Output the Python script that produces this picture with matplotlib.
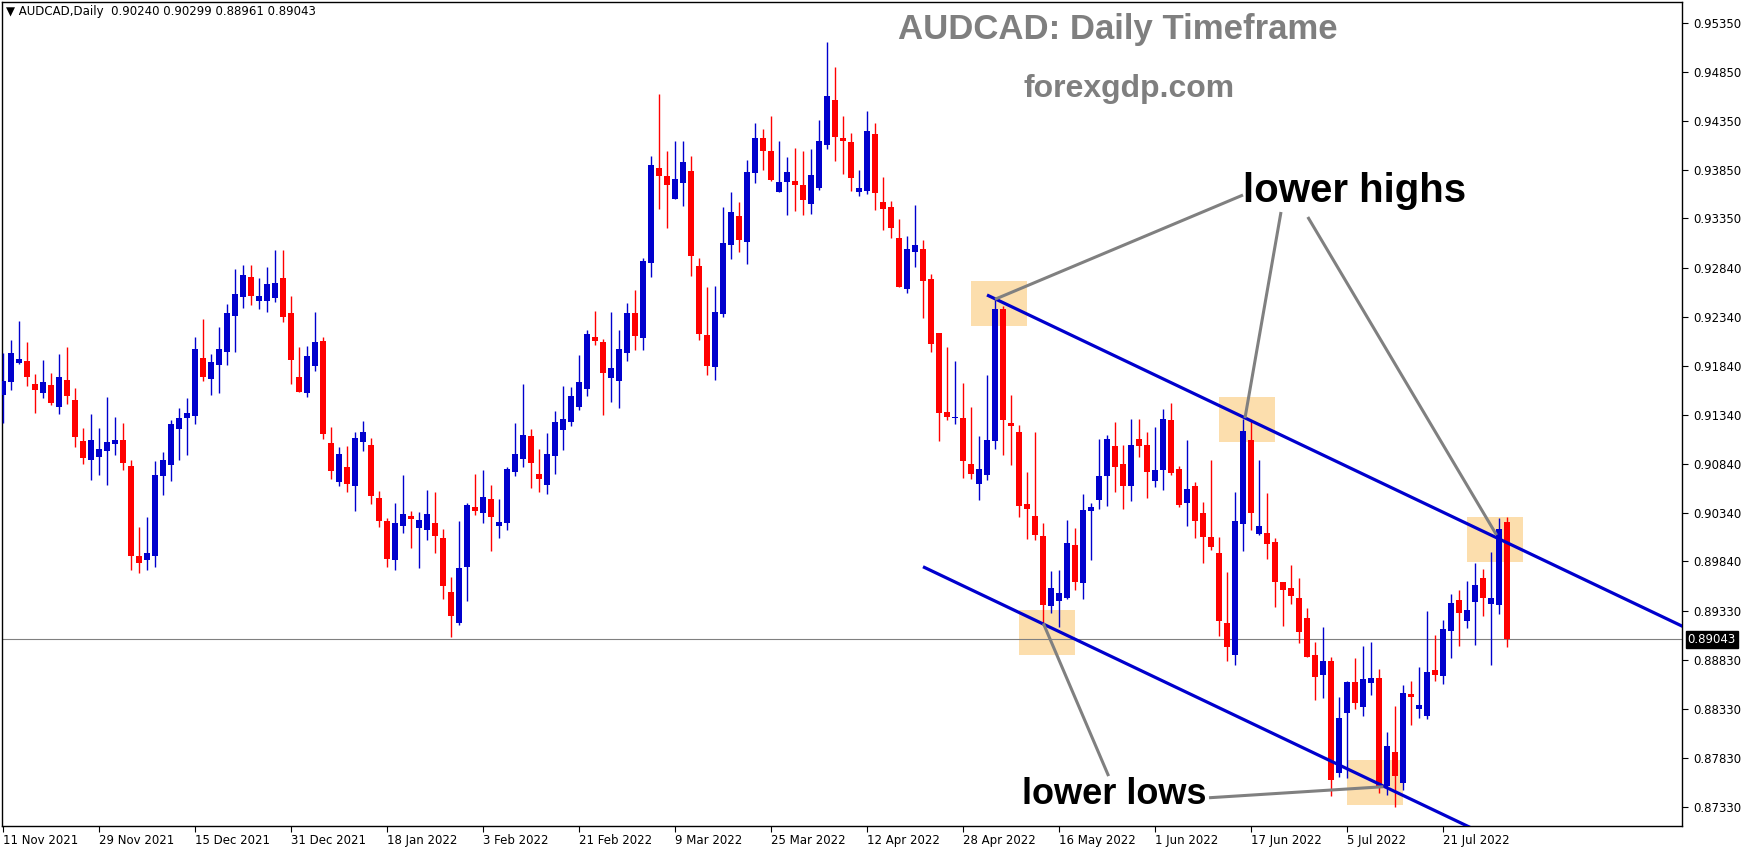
import matplotlib
matplotlib.use("Agg")
import matplotlib.pyplot as plt
from matplotlib.patches import Rectangle

# ---------------- data (AUDCAD daily, one entry per bar, bar 0 = 11 Nov 2021) ----------------
opens = [0.91543,0.91677,0.91871,0.91892,0.91656,0.91564,0.91646,0.91421,0.91697,0.91492,
         0.91073,0.90878,0.90909,0.90970,0.91042,0.91083,0.90817,0.89900,0.89850,0.89900,
         0.90715,0.90827,0.91196,0.91308,0.91329,0.91922,0.91707,0.91851,0.91984,0.92352,
         0.92546,0.92751,0.92505,0.92505,0.92536,0.92741,0.92383,0.91728,0.91564,0.91840,
         0.92096,0.91052,0.90653,0.90807,0.90612,0.91063,0.91032,0.90490,0.90254,0.89855,
         0.90203,0.90305,0.90183,0.90162,0.90233,0.90080,0.89527,0.89210,0.89783,0.90397,
         0.90336,0.90479,0.90203,0.90233,0.90755,0.90888,0.91124,0.90735,0.90622,0.90919,
         0.91185,0.91267,0.91421,0.91605,0.92137,0.92086,0.91717,0.91687,0.91973,0.92382,
         0.92127,0.92894,0.93866,0.93784,0.93549,0.93713,0.93836,0.92863,0.92157,0.91830,
         0.92372,0.93078,0.93375,0.93109,0.93815,0.94173,0.94040,0.93621,0.93723,0.93733,
         0.93692,0.93498,0.93662,0.94102,0.94562,0.94173,0.94132,0.93621,0.93631,0.94214,
         0.93518,0.93467,0.93150,0.92628,0.93007,0.93037,0.92730,0.92178,0.91369,0.91308,
         0.91308,0.90837,0.90633,0.90725,0.91073,0.92423,0.91257,0.91165,0.90428,0.90305,
         0.90100,0.89384,0.89435,0.89466,0.90008,0.89619,0.90356,0.90469,0.90714,0.91021,
         0.90837,0.90612,0.91093,0.91032,0.90663,0.90776,0.91287,0.90786,0.90438,0.90612,
         0.90336,0.90090,0.89926,0.89210,0.88883,0.90223,0.91083,0.90121,0.90131,0.90039,
         0.89630,0.89568,0.89466,0.89261,0.88883,0.88678,0.88821,0.87675,0.88289,0.88606,
         0.88351,0.88596,0.88647,0.87542,0.87890,0.87573,0.88484,0.88330,0.88258,0.88729,
         0.88668,0.89128,0.89445,0.89231,0.89425,0.89671,0.89405,0.89394,0.90240]
highs = [0.91970,0.92106,0.92301,0.92086,0.91759,0.91902,0.91769,0.91963,0.92035,0.91615,
         0.91206,0.91349,0.91206,0.91523,0.91318,0.91257,0.90878,0.90193,0.90295,0.90868,
         0.90960,0.91288,0.91410,0.91513,0.92137,0.92321,0.91963,0.92239,0.92475,0.92833,
         0.92874,0.92874,0.92741,0.92853,0.93027,0.93027,0.92556,0.92035,0.92045,0.92393,
         0.92137,0.91216,0.91011,0.91021,0.91165,0.91277,0.91103,0.90561,0.90285,0.90438,
         0.90725,0.90356,0.90346,0.90571,0.90551,0.90172,0.89681,0.90254,0.90438,0.90735,
         0.90776,0.90622,0.90479,0.90806,0.91257,0.91657,0.91195,0.90991,0.91154,0.91379,
         0.91636,0.91625,0.91953,0.92209,0.92403,0.92116,0.92393,0.92209,0.92485,0.92618,
         0.92945,0.93989,0.94624,0.94040,0.94143,0.94143,0.93989,0.92945,0.92649,0.92659,
         0.93467,0.93621,0.93518,0.93948,0.94327,0.94265,0.94398,0.94143,0.93979,0.94071,
         0.94040,0.94061,0.94357,0.95156,0.94900,0.94398,0.94224,0.93846,0.94450,0.94327,
         0.93774,0.93529,0.93344,0.93170,0.93488,0.93130,0.92782,0.92178,0.92035,0.91891,
         0.91666,0.91420,0.91124,0.91748,0.92515,0.92454,0.91543,0.91236,0.90755,0.91165,
         0.90233,0.89742,0.89752,0.90264,0.90182,0.90530,0.90438,0.91093,0.91130,0.91267,
         0.91032,0.91298,0.91298,0.91165,0.91216,0.91400,0.91461,0.90817,0.91083,0.90653,
         0.90448,0.90878,0.90090,0.89732,0.90551,0.91298,0.91287,0.90878,0.90540,0.90080,
         0.89630,0.89804,0.89671,0.89364,0.89016,0.89169,0.88862,0.88453,0.88617,0.88852,
         0.88975,0.89016,0.88739,0.88095,0.88361,0.88576,0.88617,0.88760,0.89333,0.89087,
         0.89241,0.89507,0.89548,0.89640,0.89824,0.89763,0.89937,0.90285,0.90299]
lows = [0.91253,0.91595,0.91861,0.91636,0.91359,0.91513,0.91441,0.91349,0.91452,0.91011,
        0.90838,0.90674,0.90725,0.90623,0.90930,0.90776,0.89750,0.89720,0.89750,0.89780,
        0.90520,0.90663,0.90878,0.90930,0.91247,0.91687,0.91543,0.91564,0.91851,0.91984,
        0.92434,0.92464,0.92423,0.92393,0.92495,0.92290,0.91656,0.91574,0.91523,0.91789,
        0.91093,0.90684,0.90612,0.90551,0.90356,0.90970,0.90428,0.90193,0.89783,0.89753,
        0.90131,0.89978,0.89773,0.90059,0.89926,0.89456,0.89067,0.89190,0.89435,0.90315,
        0.90233,0.89947,0.90080,0.90162,0.90714,0.90806,0.90592,0.90551,0.90530,0.90735,
        0.90981,0.91226,0.91390,0.91533,0.92055,0.91339,0.91472,0.91410,0.91891,0.92004,
        0.92004,0.92751,0.93447,0.93252,0.93549,0.93477,0.92761,0.92106,0.91748,0.91697,
        0.92342,0.92935,0.93007,0.92884,0.93713,0.93846,0.93733,0.93621,0.93385,0.93426,
        0.93385,0.93396,0.93641,0.94061,0.93938,0.93805,0.93631,0.93580,0.93600,0.93437,
        0.93232,0.93150,0.92649,0.92587,0.92853,0.92331,0.91983,0.91073,0.91288,0.91247,
        0.90694,0.90684,0.90469,0.90673,0.90991,0.90929,0.90827,0.90295,0.90070,0.90059,
        0.89207,0.89312,0.89169,0.89456,0.89548,0.89456,0.89855,0.90377,0.90407,0.90551,
        0.90377,0.90459,0.90909,0.90489,0.90602,0.90571,0.90725,0.90397,0.90203,0.90080,
        0.89824,0.89957,0.89077,0.88821,0.88780,0.89947,0.90162,0.90111,0.89865,0.89374,
        0.89179,0.89405,0.89005,0.88862,0.88422,0.88443,0.87440,0.87634,0.87624,0.88330,
        0.88258,0.88473,0.87470,0.87450,0.87331,0.87501,0.88166,0.88238,0.88228,0.88617,
        0.88586,0.88852,0.88975,0.89159,0.88985,0.89282,0.88780,0.89302,0.88961]
closes = [0.91687,0.91973,0.91912,0.91728,0.91595,0.91677,0.91462,0.91728,0.91533,0.91114,
          0.90899,0.91083,0.90991,0.91063,0.91083,0.90848,0.89900,0.89820,0.89930,0.90725,
          0.90878,0.91247,0.91308,0.91359,0.92014,0.91728,0.91881,0.92014,0.92383,0.92577,
          0.92772,0.92556,0.92556,0.92679,0.92690,0.92341,0.91902,0.91574,0.91943,0.92086,
          0.91145,0.90766,0.90940,0.90633,0.91103,0.91165,0.90510,0.90254,0.89865,0.90234,
          0.90326,0.90275,0.90264,0.90326,0.90100,0.89589,0.89282,0.89773,0.90418,0.90356,
          0.90500,0.90295,0.90244,0.90786,0.90940,0.91134,0.90847,0.90684,0.90940,0.91267,
          0.91298,0.91533,0.91676,0.92168,0.92096,0.91769,0.91820,0.92014,0.92382,0.92147,
          0.92915,0.93897,0.93784,0.93692,0.93754,0.93928,0.92966,0.92168,0.91840,0.92393,
          0.93099,0.93416,0.93130,0.93825,0.94173,0.94040,0.93743,0.93723,0.93825,0.93692,
          0.93539,0.93795,0.94143,0.94603,0.94184,0.94143,0.93764,0.93662,0.94245,0.93610,
          0.93447,0.93252,0.92649,0.93037,0.93078,0.92710,0.92065,0.91359,0.91318,0.91318,
          0.90868,0.90735,0.90786,0.91083,0.92423,0.91287,0.91226,0.90407,0.90377,0.90111,
          0.89394,0.89568,0.89517,0.90029,0.89630,0.90366,0.90397,0.90714,0.91093,0.90806,
          0.90612,0.91032,0.91021,0.90755,0.90776,0.91298,0.90745,0.90418,0.90581,0.90254,
          0.90090,0.89988,0.89231,0.88965,0.90254,0.91175,0.90336,0.90203,0.90019,0.89630,
          0.89548,0.89486,0.89118,0.88862,0.88658,0.88821,0.87604,0.88238,0.88606,0.88391,
          0.88637,0.88647,0.87542,0.87951,0.87644,0.88494,0.88453,0.88371,0.88709,0.88678,
          0.89149,0.89415,0.89312,0.89343,0.89599,0.89466,0.89466,0.90172,0.89043]

date_labels = ["11 Nov 2021", "29 Nov 2021", "15 Dec 2021", "31 Dec 2021", "18 Jan 2022",
               "3 Feb 2022", "21 Feb 2022", "9 Mar 2022", "25 Mar 2022", "12 Apr 2022",
               "28 Apr 2022", "16 May 2022", "1 Jun 2022", "17 Jun 2022", "5 Jul 2022",
               "21 Jul 2022"]
price_labels = ["0.95350", "0.94850", "0.94350", "0.93850", "0.93350", "0.92840", "0.92340",
                "0.91840", "0.91340", "0.90840", "0.90340", "0.89840", "0.89330", "0.88830",
                "0.88330", "0.87830", "0.87330"]
last_price = 0.89043
header_ohlc = ["0.90240", "0.90299", "0.88961", "0.89043"]

# channel lines: (bar, price) start and end
upper_line = [(123.0, 0.92567), (215.0, 0.88979)]
lower_line = [(115.0, 0.89786), (190.0, 0.86861)]
# highlight boxes: left bar, right bar, bottom price, top price
boxes_x0 = [121, 152, 183, 127, 168]
boxes_x1 = [128, 159, 190, 134, 175]
boxes_y0 = [0.92249, 0.91065, 0.89834, 0.88883, 0.87348]
boxes_y1 = [0.92710, 0.91526, 0.90295, 0.89343, 0.87808]
# annotation pointer lines (bar, price)
high_pointers = [[(155.0, 0.93590), (124.0, 0.92523)],
                 [(159.75, 0.93416), (155.25, 0.91308)],
                 [(163.1, 0.93365), (186.7, 0.90110)]]
low_pointers = [[(138.2, 0.87644), (130.04, 0.89207)],
                [(150.75, 0.87422), (172.54, 0.87535)]]

# ---------------- figure ----------------
W, H = 1746, 850
fig = plt.figure(figsize=(W / 100, H / 100), dpi=100)
fig.patch.set_facecolor("white")
ax = fig.add_axes([2 / W, 24 / H, 1680 / W, 824 / H])
ax.set_xlim(-0.125, 209.875)
ax.set_ylim(0.87133, 0.95565)

BLUE = "#0000CD"
RED = "#FF0000"
n = len(opens)
xs = list(range(n))
cols = [BLUE if c >= o else RED for o, c in zip(opens, closes)]
ax.vlines(xs, lows, highs, colors=cols, linewidth=1.0, zorder=3)
bottoms = [min(o, c) for o, c in zip(opens, closes)]
heights = [max(abs(c - o), 0.00010) for o, c in zip(opens, closes)]
ax.bar(xs, heights, bottom=bottoms, width=0.64, color=cols, linewidth=0, zorder=4)

# highlight boxes
for x0, x1, y0, y1 in zip(boxes_x0, boxes_x1, boxes_y0, boxes_y1):
    ax.add_patch(Rectangle((x0, y0), x1 - x0, y1 - y0, facecolor="#FCDEAD",
                           edgecolor="none", zorder=1))

# current price line
ax.axhline(last_price, color="#808080", linewidth=0.8, zorder=2)

# channel lines
for ln in (upper_line, lower_line):
    ax.plot([ln[0][0], ln[1][0]], [ln[0][1], ln[1][1]], color=BLUE, linewidth=2.3,
            zorder=5, solid_capstyle="butt")

# pointer lines
for ln in high_pointers + low_pointers:
    ax.plot([ln[0][0], ln[1][0]], [ln[0][1], ln[1][1]], color="#808080", linewidth=2.2,
            zorder=6, solid_capstyle="butt")

# axes styling
for s in ax.spines.values():
    s.set_color("black")
    s.set_linewidth(1.0)
ax.yaxis.tick_right()
ax.set_yticks([float(t) for t in price_labels])
ax.set_yticklabels(price_labels)
ax.set_xticks(list(range(0, 12 * len(date_labels), 12)))
ax.set_xticklabels(date_labels, ha="left")
ax.tick_params(axis="y", direction="out", length=4, width=0.8, labelsize=8.5, pad=4,
               colors="black")
ax.tick_params(axis="x", direction="out", length=4, width=0.8, labelsize=8.5, pad=2,
               colors="black")

# current price tag
ax.annotate(f"{last_price:.5f}", xy=(1.0, last_price), xycoords=("axes fraction", "data"),
            xytext=(4, 0), textcoords="offset points", ha="left", va="center",
            fontsize=8.5, color="white",
            bbox=dict(boxstyle="square,pad=0.15", facecolor="black", edgecolor="black"))

def fpos(x, y):
    return x / W, 1 - y / H

# header
fig.text(*fpos(6, 12), "\u25BC AUDCAD,Daily  " + " ".join(header_ohlc), fontsize=8.5,
         ha="left", va="center", color="black")

# titles and annotations
fig.text(*fpos(1118, 29), "AUDCAD: Daily Timeframe", fontsize=25, fontweight="bold",
         color="#7F7F7F", ha="center", va="center", family="Liberation Sans")
fig.text(*fpos(1129, 89), "forexgdp.com", fontsize=23, fontweight="bold",
         color="#7F7F7F", ha="center", va="center", family="Liberation Sans")
fig.text(*fpos(1355, 191), "lower highs", fontsize=29, fontweight="bold",
         color="black", ha="center", va="center", family="Liberation Sans")
fig.text(*fpos(1114, 794), "lower lows", fontsize=26, fontweight="bold",
         color="black", ha="center", va="center", family="Liberation Sans")

fig.savefig("out.png", dpi=100, facecolor="white")
